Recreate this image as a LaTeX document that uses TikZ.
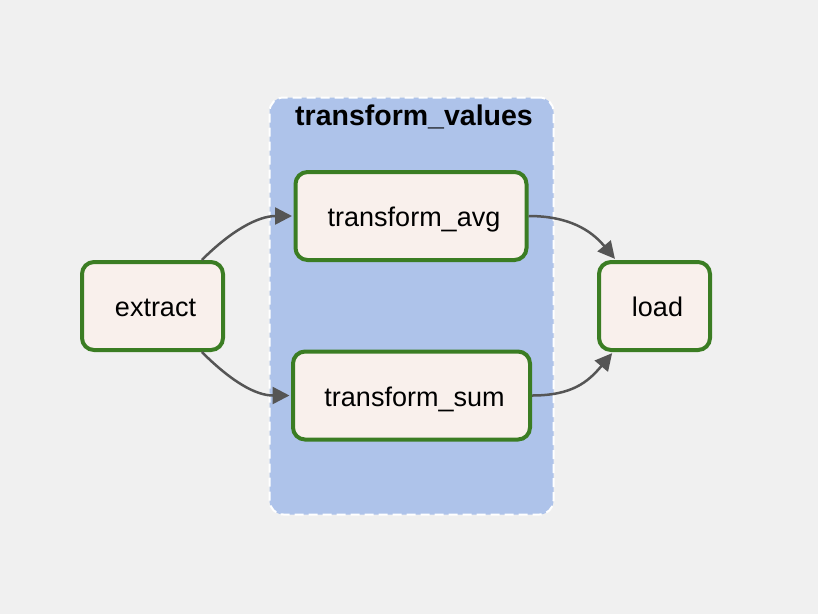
\documentclass[tikz,border=0pt]{standalone}
\usepackage{fontspec}
\setmainfont{Liberation Sans}
\usetikzlibrary{arrows.meta}
\definecolor{bg}{HTML}{F0F0F0}
\definecolor{grpblue}{HTML}{AEC3EA}
\definecolor{taskfill}{HTML}{F9F0EC}
\definecolor{taskgreen}{HTML}{3B7D23}
\definecolor{edgegray}{HTML}{555555}
\tikzset{
  task/.style={draw=taskgreen, fill=taskfill, line width=4pt, rounded corners=12pt,
    inner sep=0pt, minimum height=88pt, text height=21pt, text depth=0pt,
    font=\fontsize{27}{30}\selectfont, text=black,
    execute at begin node=\hspace*{6pt}},
  grp/.style={draw=white, fill=grpblue, line width=2pt, dash pattern=on 9pt off 5pt,
    rounded corners=14pt, inner sep=0pt},
  edge/.style={draw=edgegray, line width=2.5pt, shorten >=1.5pt,
    -{Triangle[length=17pt,width=17pt]}},
}
\begin{document}
\begin{tikzpicture}[x=1pt,y=-1pt]
\fill[bg] (0,0) rectangle (818,614);
\useasboundingbox (0,0) rectangle (818,614);
\node[grp, minimum width=284pt, minimum height=417pt] (group) at (411.5,306) {};
\node[font=\bfseries\fontsize{28.5}{32}\selectfont, inner sep=0pt, anchor=base] (title) at (414,125) {transform\_values};
\node[task, minimum width=141pt] (extract) at (152.5,306) {extract};
\node[task, minimum width=231pt] (avg) at (411,216) {transform\_avg};
\node[task, minimum width=237pt] (sum) at (411.5,395.5) {transform\_sum};
\node[task, minimum width=111pt] (load) at (654.5,306) {load};
\draw[edge] (extract.43) .. controls +(30,-30) and +(-35,0) .. (avg.west);
\draw[edge] (extract.-43) .. controls +(30,30) and +(-35,0) .. (sum.west);
\draw[edge] (avg.east) .. controls +(40,0) and +(-25,-30) .. (load.130);
\draw[edge] (sum.east) .. controls +(40,0) and +(-25,30) .. (load.228);
\end{tikzpicture}
\end{document}
